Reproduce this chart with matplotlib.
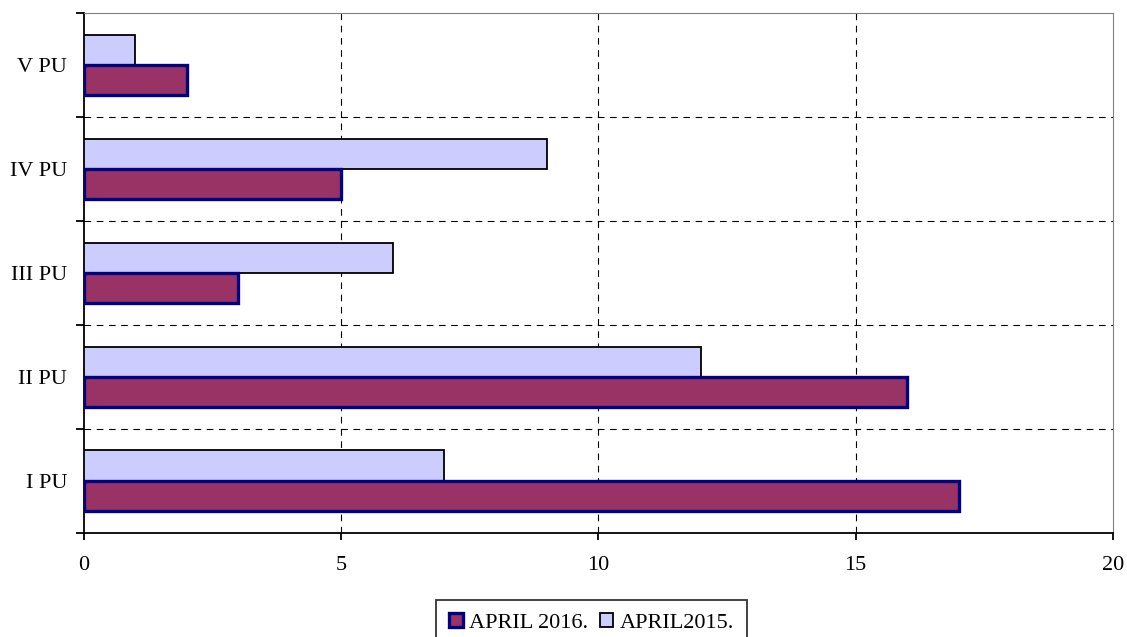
import matplotlib
matplotlib.use('Agg')
import matplotlib.pyplot as plt
import numpy as np
from matplotlib.patches import Patch

plt.rcParams['font.family'] = ['Liberation Serif', 'DejaVu Serif']

categories = ['I PU', 'II PU', 'III PU', 'IV PU', 'V PU']
apr2016 = [17, 16, 3, 5, 2]
apr2015 = [7, 12, 6, 9, 1]

fig = plt.figure(figsize=(11.27, 6.37), dpi=100)
ax = fig.add_axes([0.0745, 0.164, 0.913, 0.8155])

y = np.arange(len(categories))
h = 0.29
ax.barh(y + h / 2, apr2015, height=h, color='#CCCCFF', edgecolor='black', linewidth=1.3, zorder=3)
ax.barh(y - h / 2, apr2016, height=h, color='#993366', edgecolor='#000080', linewidth=2.4, zorder=3)

ax.set_xlim(0, 20)
ax.set_ylim(-0.5, 4.5)
ax.set_xticks([0, 5, 10, 15, 20])
ax.set_yticks(y)
ax.set_yticklabels(categories)
ax.set_yticks(np.arange(-0.5, 5, 1), minor=True)
ax.tick_params(axis='y', which='major', length=0, pad=12, labelsize=16)
ax.tick_params(axis='y', which='minor', length=6, width=1.3, color='black')
ax.tick_params(axis='x', length=5, width=1.3, pad=12, labelsize=16)

for xv in [5, 10, 15]:
    ax.axvline(xv, color='black', linestyle=(0, (6, 5)), linewidth=0.8, zorder=1)
for yv in [0.5, 1.5, 2.5, 3.5]:
    ax.axhline(yv, color='black', linestyle=(0, (6, 5)), linewidth=0.8, zorder=1)

ax.spines['left'].set_color('black')
ax.spines['left'].set_linewidth(1.3)
ax.spines['bottom'].set_color('black')
ax.spines['bottom'].set_linewidth(1.3)
ax.spines['top'].set_color('#808080')
ax.spines['right'].set_color('#808080')

handles = [
    Patch(facecolor='#993366', edgecolor='#000080', linewidth=2.4, label='APRIL 2016.'),
    Patch(facecolor='#CCCCFF', edgecolor='black', linewidth=1.3, label='APRIL2015.'),
]
leg = fig.legend(handles=handles, loc='upper center', bbox_to_anchor=(0.525, 0.058), ncol=2,
                 fontsize=16, frameon=True, fancybox=False, edgecolor='black',
                 handlelength=0.6, handleheight=0.6, handletextpad=0.3, columnspacing=0.5,
                 borderpad=0.6, borderaxespad=0)
leg.get_frame().set_linewidth(1.3)

fig.savefig('out.png', dpi=100, facecolor='white')
